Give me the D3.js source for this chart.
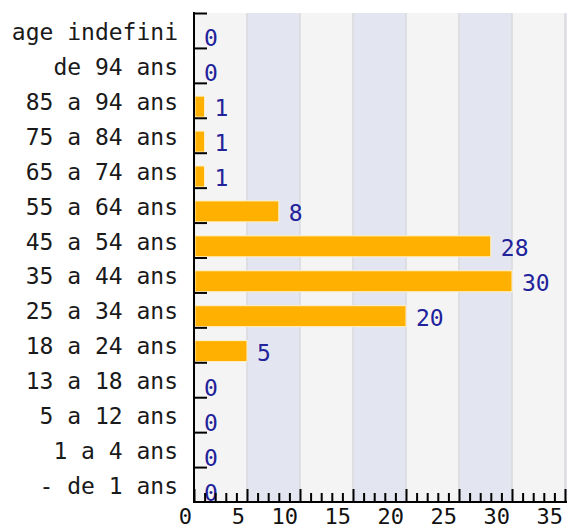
<!DOCTYPE html>
<html>
<head>
<meta charset="utf-8">
<script src="https://cdn.jsdelivr.net/npm/d3@7"></script>
<style>
  body { margin: 0; background: #fff; }
  svg { display: block; }
</style>
</head>
<body>
<div id="chart"></div>
<script>
// data
const categories = ["age indefini", "de 94 ans", "85 a 94 ans", "75 a 84 ans", "65 a 74 ans",
  "55 a 64 ans", "45 a 54 ans", "35 a 44 ans", "25 a 34 ans", "18 a 24 ans",
  "13 a 18 ans", "5 a 12 ans", "1 a 4 ans", "- de 1 ans"];
const values = [0, 0, 1, 1, 1, 8, 28, 30, 20, 5, 0, 0, 0, 0];
const xTicks = [0, 5, 10, 15, 20, 25, 30, 35];

const width = 567, height = 529;
const plotLeft = 194, plotTop = 13, plotBottom = 502, plotRight = 565;
const font = "'DejaVu Sans Mono', 'Liberation Mono', monospace";

const svg = d3.select("#chart").append("svg")
  .attr("width", width).attr("height", height);

const x = d3.scaleLinear().domain([0, 35]).range([plotLeft, plotRight]);
const y = d3.scaleBand().domain(categories).range([plotTop, plotBottom]);
const yIdx = d3.scaleLinear().domain([0, categories.length]).range([plotTop, plotBottom]);

// alternating background bands
svg.append("g").selectAll("rect")
  .data(xTicks)
  .join("rect")
  .attr("x", d => x(d))
  .attr("y", plotTop)
  .attr("width", d => (d === 35 ? width : x(d + 5)) - x(d))
  .attr("height", plotBottom - plotTop)
  .attr("fill", (d, i) => i % 2 ? "#e3e6f0" : "#f4f4f4");

// grid lines
svg.append("g").selectAll("line")
  .data(xTicks.slice(1))
  .join("line")
  .attr("x1", d => x(d)).attr("x2", d => x(d))
  .attr("y1", plotTop).attr("y2", plotBottom)
  .attr("stroke", "#dadade").attr("stroke-width", 1.5);

// bars
const bw = y.bandwidth();
svg.append("g").selectAll("rect")
  .data(values)
  .join("rect")
  .attr("x", x(0) + 1)
  .attr("y", (d, i) => y(categories[i]) + bw * 0.38)
  .attr("width", d => Math.max(0, x(d) - x(0) - 1))
  .attr("height", bw * 0.6)
  .attr("fill", "#ffb000")
  .attr("stroke", d => d > 0 ? "#fff2cc" : "none")
  .attr("stroke-width", 1);

// value labels
svg.append("g").selectAll("text")
  .data(values)
  .join("text")
  .attr("x", d => x(d) + 10)
  .attr("y", (d, i) => y(categories[i]) + bw - 1.5)
  .attr("font-family", font)
  .attr("font-size", 23)
  .attr("fill", "#22229a")
  .text(d => d);

// x axis
const xAxis = svg.append("g")
  .attr("transform", `translate(0,${plotBottom})`)
  .call(d3.axisBottom(x).tickValues(d3.range(0, 36)).tickSizeInner(-13).tickSizeOuter(0)
    .tickFormat(d => d % 5 === 0 ? d : ""));
xAxis.select(".domain").remove();
xAxis.selectAll(".tick line")
  .attr("y2", d => d % 5 === 0 ? -13 : -9)
  .attr("stroke", "#000").attr("stroke-width", 2);
xAxis.selectAll(".tick text")
  .attr("text-anchor", "end")
  .attr("dx", -2.5)
  .attr("y", 0)
  .attr("dy", 21.5)
  .attr("font-family", font)
  .attr("font-size", 22)
  .attr("fill", "#111");
svg.append("line")
  .attr("x1", plotLeft).attr("x2", width)
  .attr("y1", plotBottom).attr("y2", plotBottom)
  .attr("stroke", "#000").attr("stroke-width", 2);

// y axis ticks at band boundaries
const yTicks = svg.append("g")
  .attr("transform", `translate(${plotLeft},0)`)
  .call(d3.axisRight(yIdx).tickValues(d3.range(0, categories.length)).tickSize(13).tickFormat(""));
yTicks.select(".domain").remove();
yTicks.selectAll(".tick line").attr("stroke", "#000").attr("stroke-width", 2);
svg.append("line")
  .attr("x1", plotLeft).attr("x2", plotLeft)
  .attr("y1", plotTop - 1).attr("y2", plotBottom + 1)
  .attr("stroke", "#000").attr("stroke-width", 2);

// category labels
const yAxis = svg.append("g")
  .attr("transform", `translate(${plotLeft},0)`)
  .call(d3.axisLeft(y).tickSize(0).tickPadding(16));
yAxis.select(".domain").remove();
yAxis.selectAll(".tick text")
  .attr("dy", 9.5)
  .attr("font-family", font)
  .attr("font-size", 23)
  .attr("fill", "#1a1a1a");
</script>
</body>
</html>
